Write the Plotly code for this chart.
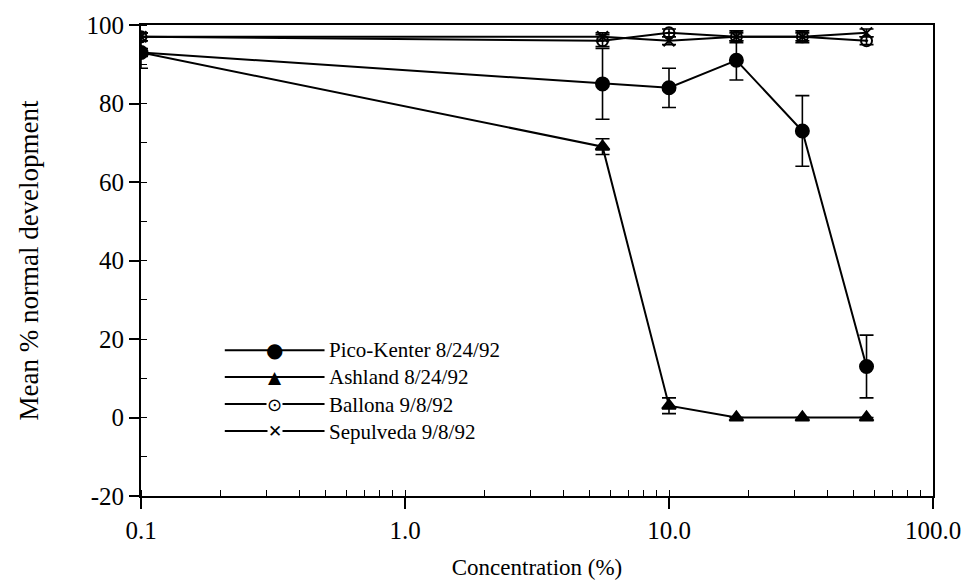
import plotly.graph_objects as go

conc = [0.1, 5.6, 10, 18, 32, 56]

pico = [93, 85, 84, 91, 73, 13]
pico_err = [4, 9, 5, 5, 9, 8]
ashland = [93, 69, 3, 0, 0, 0]
ashland_err = [1, 2, 2, 0, 0, 0]
ballona = [97, 96, 98, 97, 97, 96]
ballona_err = [1, 1.5, 1, 1.5, 1.5, 1]
sepulveda = [97, 97, 96, 97, 97, 98]
sepulveda_err = [1, 1, 1, 1, 1, 1]

names = ["Pico-Kenter 8/24/92", "Ashland 8/24/92", "Ballona 9/8/92", "Sepulveda 9/8/92"]
series = [pico, ashland, ballona, sepulveda]
errors = [pico_err, ashland_err, ballona_err, sepulveda_err]
symbols = ["circle", "triangle-up", "circle-open-dot", "x-thin-open"]
sizes = [13, 12, 11, 11]
legend_glyphs = ["\u25CF", "\u25B2", "\u2299", "\u2715"]
legend_glyph_sizes = [20, 17, 18, 17]

y_ticks = [-20, 0, 20, 40, 60, 80, 100]
y_ticktext = ["-20", "0", "20", "40", "60", "80", "100"]
x_ticks = [0.1, 1, 10, 100]
x_ticktext = ["0.1", "1.0", "10.0", "100.0"]

FONT = "Liberation Serif, Times New Roman, serif"

fig = go.Figure()
for i in [3, 2, 1, 0]:
    fig.add_trace(go.Scatter(
        x=conc, y=series[i], name=names[i], mode="lines+markers",
        line=dict(color="black", width=2),
        marker=dict(symbol=symbols[i], size=sizes[i], color="black",
                    line=dict(color="black", width=2)),
        error_y=dict(type="data", array=errors[i], visible=True,
                     color="black", thickness=1.6, width=7),
        showlegend=False,
    ))

# manual legend (long sample lines like the original), text as one block
LEG_FONT = 21
line_h = LEG_FONT * 1.3
center_px = 391
row_px = [center_px + (k - 1.5) * line_h for k in range(4)]
plot_top, plot_bottom, plot_left, plot_w = 20, 498, 141, 794
ph = plot_bottom - plot_top
x0 = (225 - plot_left) / plot_w
x1 = (325 - plot_left) / plot_w
xm = (x0 + x1) / 2
for i in range(4):
    yp = (plot_bottom - row_px[i]) / ph
    fig.add_shape(type="line", xref="paper", yref="paper", x0=x0, x1=x1, y0=yp, y1=yp,
                  line=dict(color="black", width=2))
    fig.add_annotation(xref="paper", yref="paper", x=xm, y=yp, text=legend_glyphs[i],
                       showarrow=False, xanchor="center", yanchor="middle",
                       font=dict(size=legend_glyph_sizes[i], family="DejaVu Sans", color="black"),
                       bgcolor="white" if i >= 2 else None, borderpad=0)
fig.add_annotation(xref="paper", yref="paper", x=(328 - plot_left) / plot_w,
                   y=(plot_bottom - center_px) / ph,
                   text="<br>".join(names), showarrow=False, xanchor="left", yanchor="middle",
                   align="left", borderpad=0,
                   font=dict(size=LEG_FONT, family=FONT, color="black"))

fig.update_layout(
    width=973, height=588,
    margin=dict(l=141, r=38, t=20, b=90),
    paper_bgcolor="white", plot_bgcolor="white",
    font=dict(family=FONT, size=24, color="black"),
    showlegend=False,
    xaxis=dict(
        type="log", range=[-1, 2],
        tickvals=x_ticks, ticktext=x_ticktext,
        ticks="outside", ticklen=11, tickwidth=1.5, tickcolor="black",
        minor=dict(ticks="inside", ticklen=6, tickwidth=1.2, tickcolor="black",
                   dtick="D1", showgrid=False),
        showline=True, linecolor="black", linewidth=2, mirror=True,
        showgrid=False, zeroline=False,
        title=dict(text="Concentration (%)", font=dict(size=23, family=FONT), standoff=16),
        tickfont=dict(size=25, family=FONT),
    ),
    yaxis=dict(
        range=[-20, 100], tickvals=y_ticks, ticktext=y_ticktext,
        ticks="outside", ticklen=10, tickwidth=1.5, tickcolor="black",
        minor=dict(ticks="inside", ticklen=6, tickwidth=1.2, tickcolor="black",
                   dtick=10, tick0=0, showgrid=False),
        showline=True, linecolor="black", linewidth=2, mirror=True,
        showgrid=False, zeroline=False,
        title=dict(text="Mean % normal development", font=dict(size=27, family=FONT), standoff=40),
        tickfont=dict(size=25, family=FONT),
    ),
)

fig.write_html("out.html")
